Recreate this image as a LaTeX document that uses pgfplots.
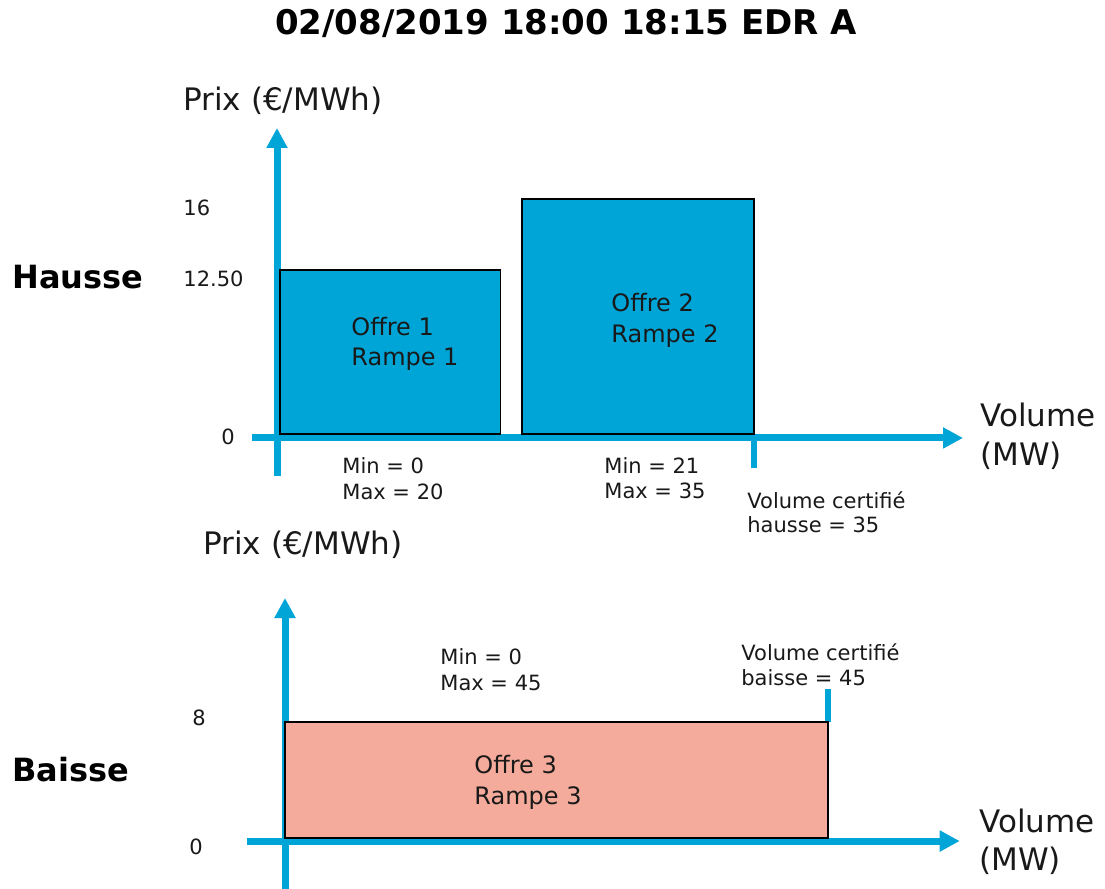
\documentclass[border=0pt]{standalone}
\usepackage{pgfplots}
\pgfplotsset{compat=1.18}
\usepackage{fontspec}
\setmainfont{DejaVu Sans}
\usetikzlibrary{arrows.meta}

\definecolor{axblue}{RGB}{0,165,215}
\definecolor{barblue}{RGB}{0,165,215}
\definecolor{barpink}{RGB}{244,171,155}
\definecolor{txt}{RGB}{25,25,25}

% font size given in image pixels (1px = 0.5pt)
\newcommand\fs[1]{\fontsize{#1}{#1}\selectfont}

\pgfplotsset{
  hausse/.style={x=6.815pt, y=7.345pt, at={(124.87pt,205.465pt)}, anchor=south west,
    xmin=-2, xmax=51, ymin=-3, ymax=21, hide axis, clip=false},
  baisse/.style={x=6.035pt, y=7.25pt, at={(118.36pt,0.125pt)}, anchor=south west,
    xmin=-4, xmax=58, ymin=-3.5, ymax=17, hide axis, clip=false},
}

\begin{document}
\begin{tikzpicture}[x=0.5pt, y=0.5pt,
    lab/.style={anchor=base west, inner sep=0pt, text=txt},
    axarrow/.style={axblue, line width=3.5pt, -{Triangle[width=10pt,length=10pt]}}]
\useasboundingbox (0,0) rectangle (1105,889);

% ---------- Hausse ----------
\begin{axis}[hausse]
  \draw[axarrow] (axis cs:-1.83,-0.27) -- (axis cs:50.33,-0.27);
  \draw[axarrow] (axis cs:0,-2.86) -- (axis cs:0,20.83);
  \draw[axblue, line width=2.8pt] (axis cs:35,-0.27) -- (axis cs:35,-2.3);
\end{axis}
\begin{axis}[hausse]
  \addplot[fill=barblue, draw=black, line width=0.75pt]
    coordinates {(0.22,0) (0.22,11.16) (16.41,11.16) (16.41,0)} \closedcycle;
  \addplot[fill=barblue, draw=black, line width=0.75pt]
    coordinates {(17.97,0) (17.97,16) (35,16) (35,0)} \closedcycle;
\end{axis}

% ---------- Baisse ----------
\begin{axis}[baisse]
  \draw[axarrow] (axis cs:-3.15,-0.21) -- (axis cs:55.9,-0.21);
  \draw[axarrow] (axis cs:0,-3.6) -- (axis cs:0,16.55);
  \draw[axblue, line width=2.8pt] (axis cs:45,8) -- (axis cs:45,10.28);
\end{axis}
\begin{axis}[baisse]
  \addplot[fill=barpink, draw=black, line width=0.75pt]
    coordinates {(0,0) (0,8) (45,8) (45,0)} \closedcycle;
\end{axis}

% ---------- texts ----------
\node[anchor=base, inner sep=0pt, text=black] at (566,{889-34.4}) {\fs{17}\bfseries 02/08/2019 18:00 18:15 EDR A};

\node[lab] at (183,{889-111}) {\fs{15.5}Prix (€/MWh)};
\node[lab, text=black] at (12,{889-288.7}) {\fs{16}\bfseries Hausse};
\node[lab] at (183,{889-215.7}) {\fs{10.5}16};
\node[lab] at (183,{889-286.7}) {\fs{10.5}12.50};
\node[anchor=base, inner sep=0pt, text=txt] at (228,{889-444.7}) {\fs{10.5}0};
\node[lab] at (351,{889-335.8}) {\fs{12}Offre 1};
\node[lab] at (351,{889-365.8}) {\fs{12}Rampe 1};
\node[lab] at (611,{889-311.8}) {\fs{12}Offre 2};
\node[lab] at (611,{889-342.8}) {\fs{12}Rampe 2};
\node[lab] at (342,{889-473.7}) {\fs{10.5}Min = 0};
\node[lab] at (342,{889-499.7}) {\fs{10.5}Max = 20};
\node[lab] at (604,{889-473.7}) {\fs{10.5}Min = 21};
\node[lab] at (604,{889-498.7}) {\fs{10.5}Max = 35};
\node[lab] at (747,{889-508.7}) {\fs{10.5}Volume certifié};
\node[lab] at (747,{889-532.7}) {\fs{10.5}hausse = 35};
\node[lab] at (980,{889-427}) {\fs{15.5}Volume};
\node[lab] at (980,{889-466}) {\fs{15.5}(MW)};

\node[lab] at (203,{889-555}) {\fs{15.5}Prix (€/MWh)};
\node[lab, text=black] at (12,{889-781.7}) {\fs{16}\bfseries Baisse};
\node[lab] at (192,{889-725.7}) {\fs{10.5}8};
\node[lab] at (189,{889-854.7}) {\fs{10.5}0};
\node[lab] at (440,{889-664.7}) {\fs{10.5}Min = 0};
\node[lab] at (440,{889-690.7}) {\fs{10.5}Max = 45};
\node[lab] at (741,{889-660.7}) {\fs{10.5}Volume certifié};
\node[lab] at (741,{889-685.7}) {\fs{10.5}baisse = 45};
\node[lab] at (474,{889-773.8}) {\fs{12}Offre 3};
\node[lab] at (474,{889-804.8}) {\fs{12}Rampe 3};
\node[lab] at (979,{889-833}) {\fs{15.5}Volume};
\node[lab] at (979,{889-871}) {\fs{15.5}(MW)};
\end{tikzpicture}
\end{document}
